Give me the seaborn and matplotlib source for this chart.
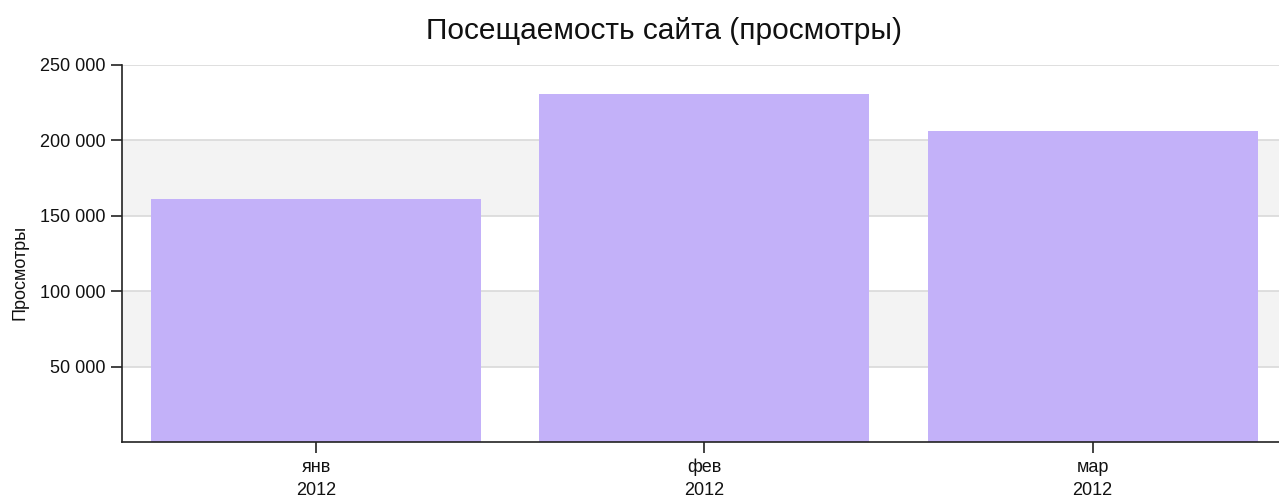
import seaborn as sns
import matplotlib.pyplot as plt
import pandas as pd

months = ["янв\n2012", "фев\n2012", "мар\n2012"]
views = [161000, 231000, 206000]
y_ticks = [50000, 100000, 150000, 200000, 250000]

df = pd.DataFrame({"month": months, "views": views})

sns.set_style("white")
plt.rcParams["font.family"] = ["Liberation Sans", "DejaVu Sans"]

fig = plt.figure(figsize=(12.79, 4.98), dpi=100)
ax = fig.add_axes([0.0954, 0.1124, 0.9106, 0.7571])

# alternating bands behind the bars
for lo, hi in [(50000, 100000), (150000, 200000)]:
    ax.axhspan(lo, hi, color="#f3f3f3", zorder=0, lw=0)
for t in y_ticks:
    ax.axhline(t, color="#d9d9d9", lw=1.2, zorder=0.5)

sns.barplot(data=df, x="month", y="views", color="#c3b1f9", width=0.85,
            saturation=1, ax=ax, zorder=2, linewidth=0)

ax.set_ylim(0, 250000)
ax.set_xlim(-0.5, 2.5)
ax.set_yticks(y_ticks)
ax.set_yticklabels([f"{v:,}".replace(",", " ") for v in y_ticks])
ax.tick_params(axis="both", which="both", length=8, width=1.2, color="#222222",
               labelsize=13, labelcolor="#111111", direction="out",
               left=True, bottom=True, pad=4)
for lbl in ax.get_xticklabels():
    lbl.set_linespacing(1.45)
ax.set_xlabel("")
ax.set_ylabel("Просмотры", fontsize=13, color="#111111")
ax.yaxis.set_label_coords(-0.08, 0.45)

for side in ["top", "right"]:
    ax.spines[side].set_visible(False)
for side in ["left", "bottom"]:
    ax.spines[side].set_color("#222222")
    ax.spines[side].set_linewidth(1.2)

fig.suptitle("Посещаемость сайта (просмотры)", fontsize=21.5, y=0.966,
             x=0.519, color="#111111")

fig.savefig("out.png", dpi=100)
